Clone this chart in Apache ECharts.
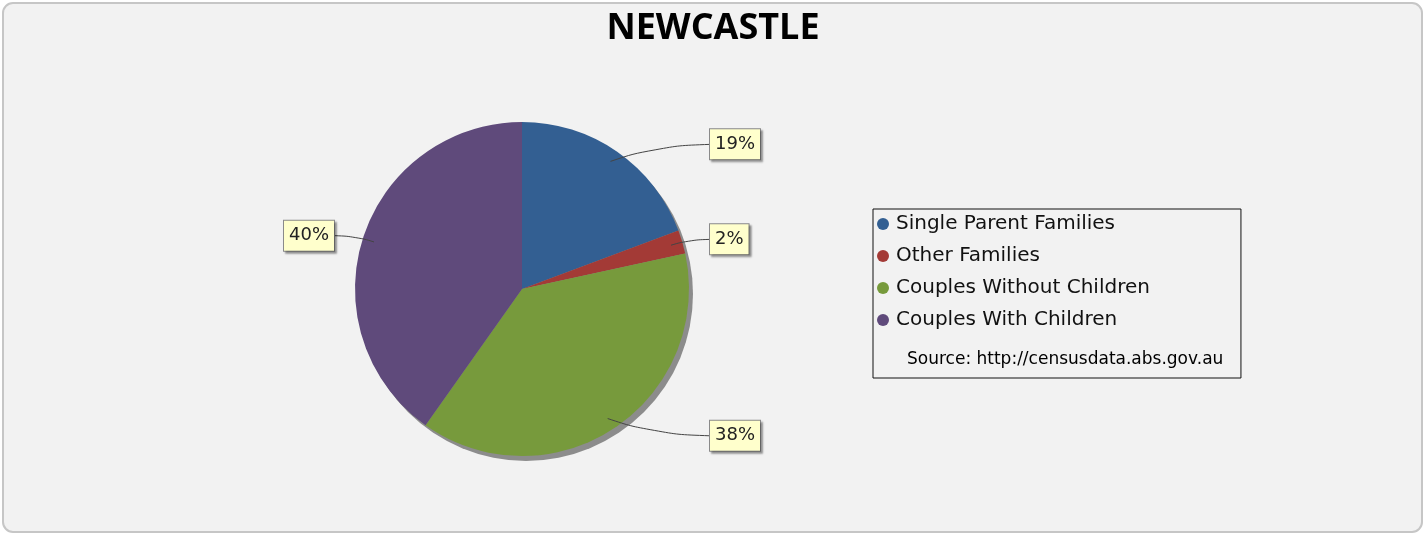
<!DOCTYPE html>
<html>
<head>
<meta charset="utf-8">
<script src="https://cdn.jsdelivr.net/npm/echarts@6/dist/echarts.min.js"></script>
<style>
html,body{margin:0;padding:0;background:#ffffff;}
#main{width:1426px;height:535px;}
</style>
</head>
<body>
<div id="main"></div>
<script>
const categories = ['Single Parent Families', 'Other Families', 'Couples Without Children', 'Couples With Children'];
const values = [19.3, 2.3, 38.2, 40.2];
const colors = ['#335f92', '#a33a36', '#779a3c', '#5f4a7b'];
const titleText = 'NEWCASTLE';
const sourceText = 'Source: http://censusdata.abs.gov.au';

const CX = 522, CY = 289, R = 167, GAP = 21;
const total = values.reduce((a, b) => a + b, 0);
// mid angle of each slice, radians, measured clockwise from 12 o'clock
const midAngles = [];
let acc = 0;
values.forEach(v => { midAngles.push((acc + v / 2) / total * Math.PI * 2); acc += v; });

const chart = echarts.init(document.getElementById('main'));

const labelStyle = {
  show: true,
  position: 'outside',
  formatter: p => Math.round(p.percent) + '%',
  fontFamily: 'DejaVu Sans',
  fontSize: 18,
  color: '#222222',
  backgroundColor: '#ffffcc',
  borderColor: '#8a8a8a',
  borderWidth: 1,
  padding: [7, 5, 5, 5],
  shadowColor: 'rgba(0,0,0,0.3)',
  shadowBlur: 2,
  shadowOffsetX: 2,
  shadowOffsetY: 2
};

const option = {
  backgroundColor: '#ffffff',
  animation: false,
  graphic: [{
    type: 'rect',
    z: -10,
    silent: true,
    shape: { x: 3, y: 3, width: 1419, height: 529, r: 10 },
    style: { fill: '#f2f2f2', stroke: '#c6c6c6', lineWidth: 2 }
  }],
  title: [{
    text: titleText,
    left: 'center',
    top: 6,
    textStyle: { fontFamily: 'Open Sans', fontWeight: 'bold', fontSize: 36, color: '#000000' }
  }, {
    text: sourceText,
    left: 902,
    top: 346,
    textStyle: { fontFamily: 'DejaVu Sans', fontWeight: 'normal', fontSize: 17, color: '#000000' }
  }],
  legend: {
    orient: 'vertical',
    left: 873,
    top: 209,
    data: categories.map((c, i) => ({ name: c, itemStyle: { color: colors[i] } })),
    icon: 'circle',
    itemWidth: 12,
    itemHeight: 12,
    itemGap: 12,
    padding: [5, 91, 48, 4],
    borderColor: '#111111',
    borderWidth: 1,
    textStyle: { fontFamily: 'DejaVu Sans', fontSize: 20, color: '#111111', padding: [0, 0, 0, 2] }
  },
  series: [{
    type: 'pie',
    name: 'shadow',
    silent: true,
    center: [CX + 4, CY + 5],
    radius: R,
    z: 1,
    label: { show: false },
    labelLine: { show: false },
    itemStyle: { color: '#8c8c8c' },
    emphasis: { disabled: true },
    data: [{ value: total, name: 'shadow' }]
  }, {
    type: 'pie',
    name: 'Families',
    center: [CX, CY],
    radius: R,
    startAngle: 90,
    clockwise: true,
    z: 2,
    emphasis: { disabled: true },
    itemStyle: { borderWidth: 0 },
    label: { show: false },
    labelLine: { show: false },
    data: categories.map((c, i) => ({ name: c, value: values[i], itemStyle: { color: colors[i] } }))
  }, {
    type: 'pie',
    name: 'Labels',
    silent: true,
    center: [CX, CY],
    radius: R,
    startAngle: 90,
    clockwise: true,
    z: 3,
    avoidLabelOverlap: false,
    emphasis: { disabled: true },
    itemStyle: { color: 'rgba(0,0,0,0)', borderWidth: 0 },
    label: labelStyle,
    labelLine: {
      show: true,
      length: 9,
      length2: 14,
      smooth: 0.5,
      lineStyle: { color: '#444444', width: 1 }
    },
    labelLayout: function (p) {
      const mid = midAngles[p.dataIndex];
      const isRight = Math.sin(mid) >= 0;
      const lr = p.labelRect;
      const ly = lr.y + lr.height / 2;
      const ex = isRight ? CX + R + GAP : CX - R - GAP;
      const sx = CX + R * 0.93 * Math.sin(mid);
      const sy = CY - R * 0.93 * Math.cos(mid);
      const mx = sx + (ex - sx) * 0.45;
      return {
        x: ex,
        align: isRight ? 'left' : 'right',
        labelLinePoints: [[sx, sy], [mx, ly + (sy - ly) * 0.12], [ex, ly]]
      };
    },
    data: categories.map((c, i) => ({ name: c, value: values[i] }))
  }]
};
chart.setOption(option);
</script>
</body>
</html>
